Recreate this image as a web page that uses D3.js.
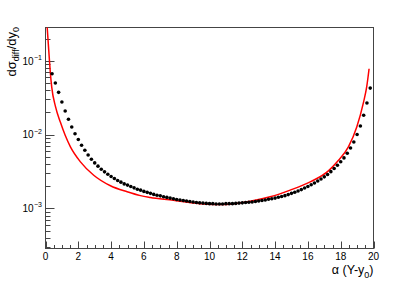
<!DOCTYPE html>
<html>
<head>
<meta charset="utf-8">
<script src="https://cdn.jsdelivr.net/npm/d3@7"></script>
<style>
body { margin: 0; background: #fff; }
text { font-family: "Liberation Sans", Arial, sans-serif; fill: #000; }
</style>
</head>
<body>
<svg id="chart" width="415" height="281"></svg>
<script>
// measured points (black markers)
const dotX = [0.4, 0.6, 0.8, 1.0, 1.2, 1.4, 1.6, 1.8, 2.0, 2.2, 2.4, 2.6, 2.8, 3.0, 3.2, 3.4, 3.6, 3.8,
  4.0, 4.2, 4.4, 4.6, 4.8, 5.0, 5.2, 5.4, 5.6, 5.8, 6.0, 6.2, 6.4, 6.6, 6.8, 7.0, 7.2, 7.4, 7.6, 7.8,
  8.0, 8.2, 8.4, 8.6, 8.8, 9.0, 9.2, 9.4, 9.6, 9.8, 10.0, 10.2, 10.4, 10.6, 10.8, 11.0, 11.2, 11.4,
  11.6, 11.8, 12.0, 12.2, 12.4, 12.6, 12.8, 13.0, 13.2, 13.4, 13.6, 13.8, 14.0, 14.2, 14.4, 14.6,
  14.8, 15.0, 15.2, 15.4, 15.6, 15.8, 16.0, 16.2, 16.4, 16.6, 16.8, 17.0, 17.2, 17.4, 17.6, 17.8,
  18.0, 18.2, 18.4, 18.6, 18.8, 19.0, 19.2, 19.4, 19.6, 19.8];
const dotY = [0.0671, 0.0501, 0.0375, 0.0277, 0.0209, 0.0162, 0.0127, 0.0103, 0.00861, 0.00719,
  0.00615, 0.00531, 0.00465, 0.00414, 0.00374, 0.00340, 0.00313, 0.00291, 0.00271, 0.00255,
  0.00239, 0.00227, 0.00215, 0.00207, 0.00198, 0.00190, 0.00182, 0.00177, 0.00170, 0.00165,
  0.00160, 0.00155, 0.00151, 0.00148, 0.00144, 0.00141, 0.00138, 0.00135, 0.00132, 0.00130,
  0.00128, 0.00126, 0.00124, 0.00122, 0.00120, 0.00119, 0.00118, 0.00117, 0.00116, 0.00116,
  0.00115, 0.00115, 0.00115, 0.00116, 0.00116, 0.00116, 0.00117, 0.00118, 0.00119, 0.00120,
  0.00121, 0.00122, 0.00124, 0.00126, 0.00128, 0.00130, 0.00133, 0.00135, 0.00138, 0.00142,
  0.00145, 0.00149, 0.00154, 0.00160, 0.00166, 0.00172, 0.00180, 0.00189, 0.00198, 0.00209,
  0.00221, 0.00235, 0.00250, 0.00268, 0.00288, 0.00315, 0.00348, 0.00385, 0.00430, 0.00484,
  0.00560, 0.00661, 0.00796, 0.01003, 0.01312, 0.0183, 0.0269, 0.0428];

// red curve
const curveX = [0.10, 0.24, 0.30, 0.38, 0.61, 0.91, 1.2, 1.52, 2.13, 2.94, 3.96, 4.98, 5.79, 6.39,
  7.8, 8.8, 9.85, 10.66, 11.5, 12.48, 13.7, 14.92, 16.14, 17.25, 17.76, 18.47, 18.98, 19.39, 19.59, 19.73];
const curveY = [0.29, 0.1016, 0.0671, 0.0442, 0.024, 0.0147, 0.0098, 0.00683, 0.00428, 0.00282,
  0.00203, 0.00168, 0.00149, 0.00141, 0.00129, 0.0012, 0.00114, 0.00113, 0.00116, 0.00125,
  0.001435, 0.00177, 0.00229, 0.00323, 0.00423, 0.00682, 0.0127, 0.0274, 0.0452, 0.0784];

const xTicks = [0, 2, 4, 6, 8, 10, 12, 14, 16, 18, 20];
const yDecades = [1e-3, 1e-2, 1e-1];
const yExps = ["\u22123", "\u22122", "\u22121"];

var svg = d3.select("#chart");
var fL = 45.5, fR = 373.5, fT = 27.5, fB = 248.5;

var x = d3.scaleLinear().domain([0, 20]).range([fL, fR]);
var y = d3.scaleLog().domain([2.86e-4, 0.284]).range([fB, fT]);

svg.append("clipPath").attr("id", "clip")
  .append("rect").attr("x", fL).attr("y", fT).attr("width", fR - fL).attr("height", fB - fT);

// frame
svg.append("rect")
  .attr("x", fL).attr("y", fT).attr("width", fR - fL).attr("height", fB - fT)
  .attr("fill", "none").attr("stroke", "#444").attr("stroke-width", 1);

var axisG = svg.append("g").attr("stroke", "#444").attr("stroke-width", 1);

// x ticks
var xMinor = d3.range(0, 20.01, 0.5).filter(function(d) { return d % 2 !== 0; });
axisG.selectAll(".xmaj").data(xTicks).enter().append("line")
  .attr("x1", function(d) { return Math.round(x(d)) + 0.5; })
  .attr("x2", function(d) { return Math.round(x(d)) + 0.5; })
  .attr("y1", fB).attr("y2", fB - 7);
axisG.selectAll(".xmin").data(xMinor).enter().append("line")
  .attr("x1", function(d) { return Math.round(x(d)) + 0.5; })
  .attr("x2", function(d) { return Math.round(x(d)) + 0.5; })
  .attr("y1", fB).attr("y2", fB - 3.5);

svg.selectAll(".xlab").data(xTicks).enter().append("text")
  .attr("x", function(d) { return x(d); })
  .attr("y", 260)
  .attr("text-anchor", "middle")
  .attr("font-size", "10px")
  .text(function(d) { return d; });

// y ticks
var yMinor = [];
[1e-4, 1e-3, 1e-2, 1e-1].forEach(function(dec) {
  for (var k = 2; k <= 9; k++) {
    var v = dec * k;
    if (v > y.domain()[0] && v < y.domain()[1]) yMinor.push(v);
  }
});
axisG.selectAll(".ymaj").data(yDecades).enter().append("line")
  .attr("x1", fL).attr("x2", fL + 9)
  .attr("y1", function(d) { return Math.round(y(d)) + 0.5; })
  .attr("y2", function(d) { return Math.round(y(d)) + 0.5; });
axisG.selectAll(".ymin").data(yMinor).enter().append("line")
  .attr("x1", fL).attr("x2", fL + 5)
  .attr("y1", function(d) { return Math.round(y(d)) + 0.5; })
  .attr("y2", function(d) { return Math.round(y(d)) + 0.5; });

var ylab = svg.selectAll(".ylab").data(yDecades).enter().append("g");
ylab.append("text")
  .attr("x", 33.5)
  .attr("y", function(d) { return y(d) + 3.7; })
  .attr("text-anchor", "end")
  .attr("font-size", "10px")
  .text("10");
ylab.append("text")
  .attr("x", 34)
  .attr("y", function(d) { return y(d) - 1; })
  .attr("font-size", "7px")
  .text(function(d, i) { return yExps[i]; });

// red curve
var line = d3.line()
  .x(function(d) { return x(d[0]); })
  .y(function(d) { return y(d[1]); })
  .curve(d3.curveMonotoneX);

svg.append("path")
  .datum(curveX.map(function(d, i) { return [d, curveY[i]]; }))
  .attr("clip-path", "url(#clip)")
  .attr("fill", "none")
  .attr("stroke", "#ff0000")
  .attr("stroke-width", 1.5)
  .attr("d", line);

// markers
svg.append("g").attr("clip-path", "url(#clip)")
  .selectAll("circle")
  .data(dotX.map(function(d, i) { return [d, dotY[i]]; }))
  .enter().append("circle")
  .attr("cx", function(d) { return x(d[0]); })
  .attr("cy", function(d) { return y(d[1]); })
  .attr("r", 1.8)
  .attr("fill", "#000");

// axis titles
var xt = svg.append("text")
  .attr("x", 373.5).attr("y", 274)
  .attr("text-anchor", "end")
  .attr("font-size", "12.5px");
xt.append("tspan").text("\u03b1 (Y-y");
xt.append("tspan").attr("font-size", "9px").attr("dy", 4).text("0");
xt.append("tspan").attr("dy", -4).text(")");

var yt = svg.append("text")
  .attr("transform", "translate(16,27) rotate(-90)")
  .attr("text-anchor", "end")
  .attr("font-size", "13px");
yt.append("tspan").text("d\u03c3");
yt.append("tspan").attr("font-size", "9px").attr("dy", 3).text("diff");
yt.append("tspan").attr("dy", -3).text("/dy");
yt.append("tspan").attr("font-size", "9px").attr("dy", 3).text("0");
</script>
</body>
</html>
